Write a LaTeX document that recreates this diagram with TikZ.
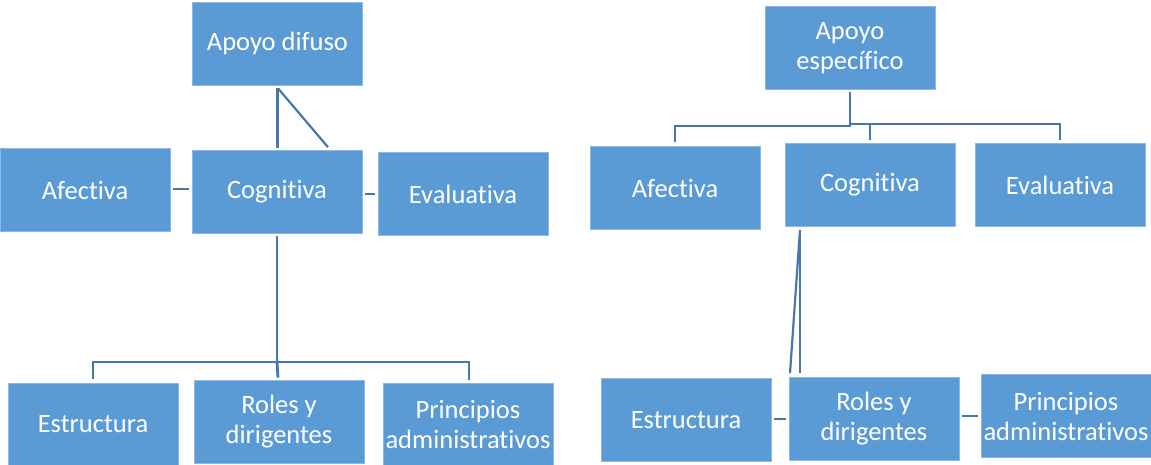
\documentclass[tikz,border=0pt]{standalone}
\usepackage{fontspec}
\setmainfont{Carlito}[Ligatures=NoCommon]
\usetikzlibrary{calc}
\definecolor{boxblue}{HTML}{5B9BD5}
\definecolor{lineblue}{HTML}{4677AE}
\tikzset{
  box/.style={rectangle, fill=boxblue, draw=boxblue!70!white, line width=0.6pt,
    minimum width=170pt, minimum height=83pt, inner sep=0pt, text=white,
    align=center, font=\fontsize{26.5}{30}\selectfont},
  conn/.style={draw=lineblue, line width=2.8pt}
}
\begin{document}
\begin{tikzpicture}[x=1pt,y=-1pt]
\useasboundingbox (0,0) rectangle (1151,465);
% left diagram
\node[box] (difuso) at (277.5,43.5) {Apoyo difuso};
\node[box] (afL) at (85,190) {Afectiva};
\node[box] (cogL) at (277,192) {Cognitiva};
\node[box] (evL) at (463,194) {Evaluativa};
\node[box, minimum height=82pt] (estL) at (93,424) {Estructura};
\node[box] (rolL) at (279,421.5) {Roles y\\dirigentes};
\node[box, minimum height=82pt] (priL) at (468,424) {Principios\\administrativos};
\coordinate (jL) at (277,362);
\draw[conn] ($(difuso.south)+(0,3)$) -- ($(cogL.north)+(0.5,-2)$);
\draw[conn, line width=2.2pt] ($(difuso.south)+(0.5,3)$) -- ($(cogL.north)+(51,-3)$);
\draw[conn] ($(afL.east)+(3,-1)$) -- ($(cogL.west)+(-3,-3)$);
\draw[conn] ($(cogL.east)+(3,2)$) -- ($(evL.west)+(-3,0)$);
\draw[conn] ($(cogL.south)+(0,2)$) -- (jL);
\draw[conn] ($(estL.north)+(0,-4)$) |- (jL) -| ($(priL.north)+(1,-3)$);
\draw[conn] (jL) -- ($(rolL.north)+(-1,-2)$);
% right diagram
\node[box] (especif) at (850,48) {Apoyo\\específico};
\node[box] (afR) at (675,188) {Afectiva};
\node[box] (cogR) at (870,185) {Cognitiva};
\node[box] (evR) at (1060,185) {Evaluativa};
\node[box] (estR) at (686,420) {Estructura};
\node[box] (rolR) at (874,419) {Roles y\\dirigentes};
\node[box] (priR) at (1066,416) {Principios\\administrativos};
\coordinate (jR) at (850,124);
\draw[conn] ($(especif.south)+(0,2)$) -- (jR);
\draw[conn] ($(afR.north)+(0,-4)$) |- ($(jR)+(0,2)$) -- (jR);
\draw[conn] (jR) -| ($(evR.north)+(0,-3)$);
\draw[conn] ($(cogR.north)+(0,-3)$) -- (cogR.north |- jR);
\draw[conn] ($(cogR.south)+(-70,3)$) -- ($(rolR.north)+(-74,-4)$);
\draw[conn, line width=2.2pt] ($(cogR.south)+(-70,3)$) -- ($(rolR.north)+(-84,-4)$);
\draw[conn] ($(estR.east)+(3,-1)$) -- ($(rolR.west)+(-3,0)$);
\draw[conn] ($(rolR.east)+(3,-3)$) -- ($(priR.west)+(-3,0)$);
\end{tikzpicture}
\end{document}
